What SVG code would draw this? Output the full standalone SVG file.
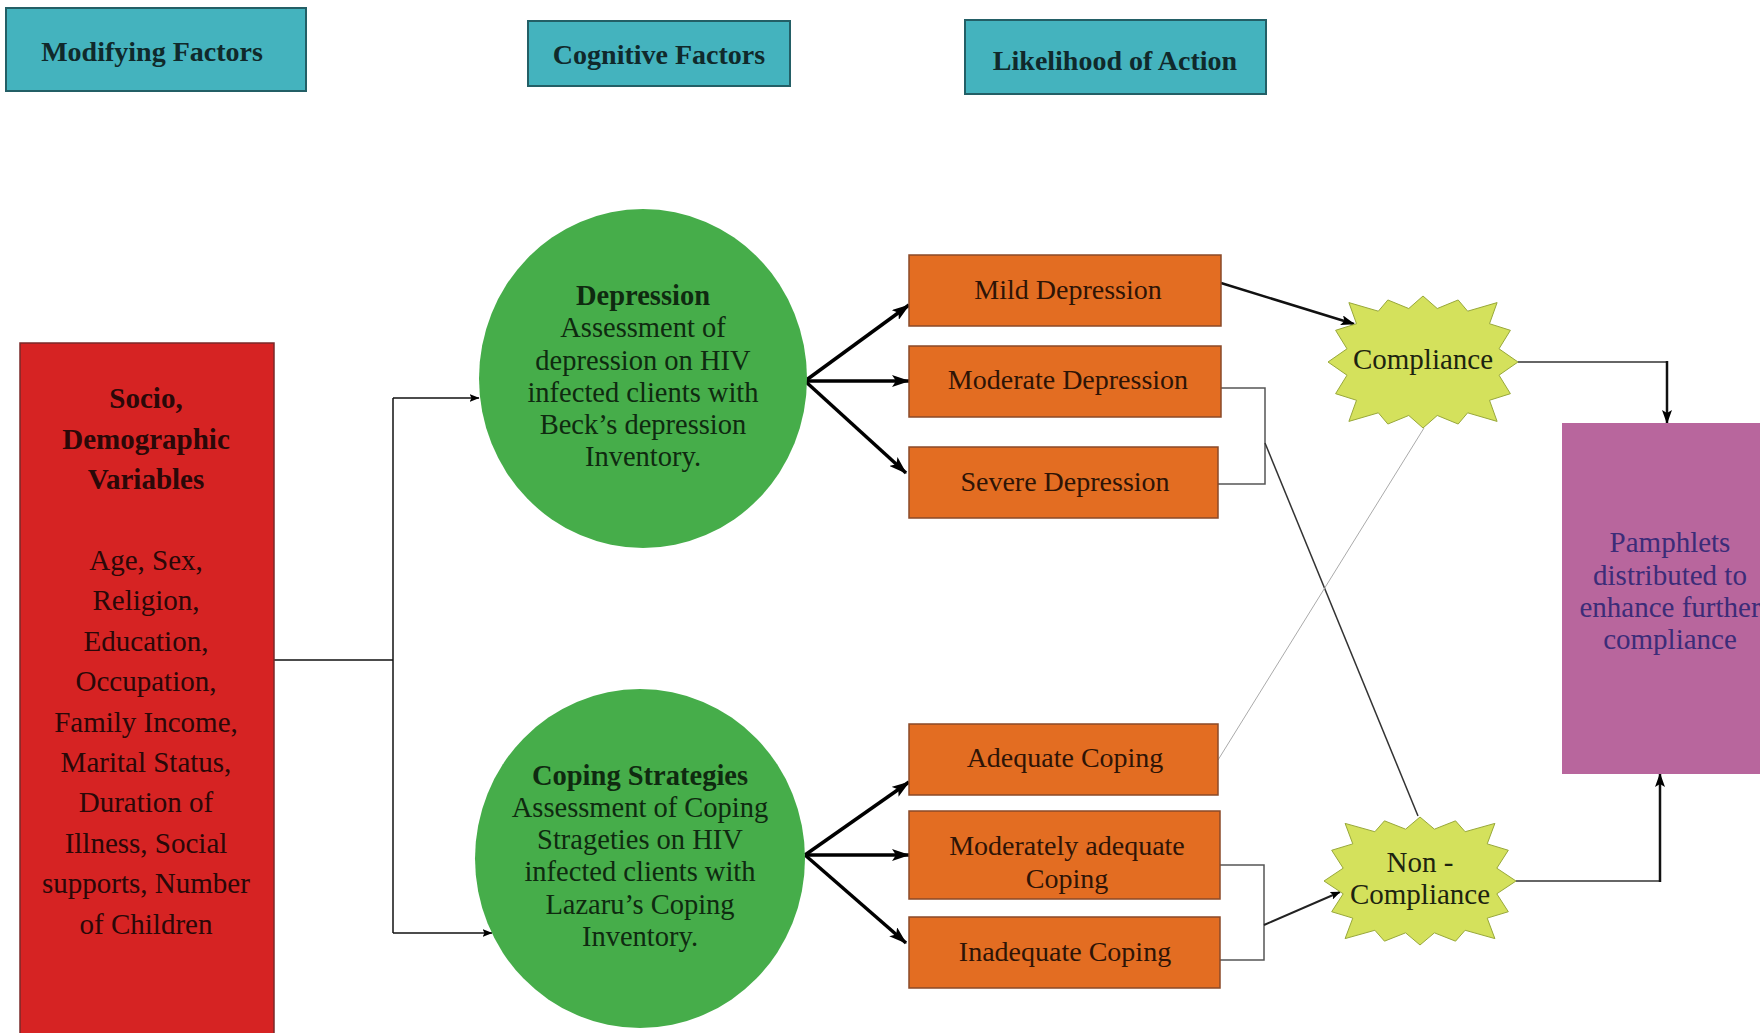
<svg xmlns="http://www.w3.org/2000/svg" width="1760" height="1033" viewBox="0 0 1760 1033">
<style>
text{font-family:"Liberation Serif","Times New Roman",serif;text-anchor:middle}
.hdr rect{fill:#44B3BE;stroke:#235f66;stroke-width:2}
.hdr text{font-size:28px;font-weight:bold;fill:#10292b}
.red{fill:#D62323;stroke:#7a2a2a;stroke-width:1.5}
.redt{font-size:29px;fill:#2a0808}
.b{font-weight:bold}
.circ{fill:#46AD4A}
.ct{font-size:28.5px;fill:#0f2a10}
.org{fill:#E36D22;stroke:#8a4a28;stroke-width:1.5}
.ot{font-size:28px;fill:#2e1406}
.star{fill:#D4E15C;stroke:#98A83A;stroke-width:1;vector-effect:non-scaling-stroke}
.st{font-size:29px;fill:#1d2410}
.pam{fill:#B8669D}
.pt{font-size:29px;fill:#3C2C78}
.c1{fill:none;stroke:#111;stroke-width:1.5}
.c3{fill:none;stroke:#000;stroke-width:3.5}
.c2{fill:none;stroke:#111;stroke-width:2.5}
.g1{fill:none;stroke:#555;stroke-width:1.5}
.g2{fill:none;stroke:#333;stroke-width:1.5}
.g3{fill:none;stroke:#aaa;stroke-width:1}
</style>
<defs>
<marker id="aL" markerUnits="userSpaceOnUse" markerWidth="18" markerHeight="12" refX="17" refY="6" orient="auto"><path d="M0,0 L18,6 L0,12 L4,6 z" fill="#000"/></marker>
<marker id="aM" markerUnits="userSpaceOnUse" markerWidth="14" markerHeight="10" refX="13" refY="5" orient="auto"><path d="M0,0 L14,5 L0,10 L3,5 z" fill="#000"/></marker>
<marker id="aS" markerUnits="userSpaceOnUse" markerWidth="10" markerHeight="8" refX="9.5" refY="4" orient="auto"><path d="M0,0 L10,4 L0,8 L2,4 z" fill="#000"/></marker>
</defs>
<rect width="1760" height="1033" fill="#fff"/>

<g id="hdr-modifying" class="hdr"><rect x="6" y="8" width="300" height="83"/><text x="152" y="61">Modifying Factors</text></g>
<g id="hdr-cognitive" class="hdr"><rect x="528" y="21" width="262" height="65"/><text x="659" y="64">Cognitive Factors</text></g>
<g id="hdr-likelihood" class="hdr"><rect x="965" y="20" width="301" height="74"/><text x="1115" y="70">Likelihood of Action</text></g>

<g id="connectors">
<path class="c1" d="M274,660 H393"/>
<path class="c1" d="M393,398 V933"/>
<path class="c1" d="M393,398 H479" marker-end="url(#aS)"/>
<path class="c1" d="M393,933 H492" marker-end="url(#aS)"/>
<path class="c3" d="M805,381 L909,305" marker-end="url(#aL)"/>
<path class="c3" d="M805,381 L909,381" marker-end="url(#aL)"/>
<path class="c3" d="M805,381 L906,473" marker-end="url(#aL)"/>
<path class="c3" d="M805,855 L909,782" marker-end="url(#aL)"/>
<path class="c3" d="M805,855 L909,855" marker-end="url(#aL)"/>
<path class="c3" d="M805,855 L906,943" marker-end="url(#aL)"/>
<path class="c2" d="M1221,283 L1354,324" marker-end="url(#aM)"/>
<path class="g1" d="M1221,388 H1265 V484 H1218"/>
<path class="g2" d="M1265,443 L1418,816"/>
<path class="g3" d="M1218,760 L1424,428"/>
<path class="g1" d="M1220,865 H1264 V960 H1220"/>
<path fill="none" stroke="#222" stroke-width="2" d="M1264,925 L1340,892" marker-end="url(#aS)"/>
<path class="g2" d="M1518,362 H1667"/>
<path class="c2" d="M1667,361 V423" marker-end="url(#aM)"/>
<path class="g2" d="M1516,881 H1660"/>
<path class="c2" d="M1660,882 V774" marker-end="url(#aM)"/>
</g>

<g id="socio">
<rect class="red" x="20" y="343" width="254" height="700"/>
<text class="redt b" font-size="28"><tspan x="146" y="408">Socio,</tspan><tspan x="146" y="449">Demographic</tspan><tspan x="146" y="489">Variables</tspan></text>
<text class="redt"><tspan x="146" y="570">Age, Sex,</tspan><tspan x="146" y="610">Religion,</tspan><tspan x="146" y="651">Education,</tspan><tspan x="146" y="691">Occupation,</tspan><tspan x="146" y="732">Family Income,</tspan><tspan x="146" y="772">Marital Status,</tspan><tspan x="146" y="812">Duration of</tspan><tspan x="146" y="853">Illness, Social</tspan><tspan x="146" y="893">supports, Number</tspan><tspan x="146" y="934">of Children</tspan></text>
</g>

<g id="depression">
<ellipse class="circ" cx="643" cy="378.5" rx="164" ry="169.5"/>
<text class="ct"><tspan x="643" y="305" font-weight="bold">Depression</tspan><tspan x="643" y="337">Assessment of</tspan><tspan x="643" y="370">depression on HIV</tspan><tspan x="643" y="402">infected clients with</tspan><tspan x="643" y="434">Beck’s depression</tspan><tspan x="643" y="466">Inventory.</tspan></text>
</g>

<g id="coping">
<ellipse class="circ" cx="640" cy="858.5" rx="165" ry="169.5"/>
<text class="ct"><tspan x="640" y="785" font-weight="bold">Coping Strategies</tspan><tspan x="640" y="817">Assessment of Coping</tspan><tspan x="640" y="849">Strageties on HIV</tspan><tspan x="640" y="881">infected clients with</tspan><tspan x="640" y="914">Lazaru’s Coping</tspan><tspan x="640" y="946">Inventory.</tspan></text>
</g>

<g id="mild"><rect class="org" x="909" y="255" width="312" height="71"/><text class="ot" x="1068" y="299">Mild Depression</text></g>
<g id="moderate"><rect class="org" x="909" y="346" width="312" height="71"/><text class="ot" x="1068" y="389">Moderate Depression</text></g>
<g id="severe"><rect class="org" x="909" y="447" width="309" height="71"/><text class="ot" x="1065" y="491">Severe Depression</text></g>
<g id="adequate"><rect class="org" x="909" y="724" width="309" height="71"/><text class="ot" x="1065" y="767">Adequate Coping</text></g>
<g id="moderately"><rect class="org" x="909" y="811" width="311" height="88"/><text class="ot"><tspan x="1067" y="855">Moderately adequate</tspan><tspan x="1067" y="888">Coping</tspan></text></g>
<g id="inadequate"><rect class="org" x="909" y="917" width="311" height="71"/><text class="ot" x="1065" y="961">Inadequate Coping</text></g>

<g id="compliance">
<g transform="translate(1423,362) scale(95,66)"><polygon class="star" points="1,0 0.8,0.2 0.92,0.48 0.7,0.58 0.78,0.9 0.47,0.77 0.37,0.94 0.15,0.81 0,1 -0.15,0.81 -0.37,0.94 -0.47,0.77 -0.78,0.9 -0.7,0.58 -0.92,0.48 -0.8,0.2 -1,0 -0.8,-0.2 -0.92,-0.48 -0.7,-0.58 -0.78,-0.9 -0.47,-0.77 -0.37,-0.94 -0.15,-0.81 0,-1 0.15,-0.81 0.37,-0.94 0.47,-0.77 0.78,-0.9 0.7,-0.58 0.92,-0.48 0.8,-0.2"/></g>
<text class="st" x="1423" y="369">Compliance</text>
</g>

<g id="noncompliance">
<g transform="translate(1420,881) scale(96,64)"><polygon class="star" points="1,0 0.8,0.2 0.92,0.48 0.7,0.58 0.78,0.9 0.47,0.77 0.37,0.94 0.15,0.81 0,1 -0.15,0.81 -0.37,0.94 -0.47,0.77 -0.78,0.9 -0.7,0.58 -0.92,0.48 -0.8,0.2 -1,0 -0.8,-0.2 -0.92,-0.48 -0.7,-0.58 -0.78,-0.9 -0.47,-0.77 -0.37,-0.94 -0.15,-0.81 0,-1 0.15,-0.81 0.37,-0.94 0.47,-0.77 0.78,-0.9 0.7,-0.58 0.92,-0.48 0.8,-0.2"/></g>
<text class="st"><tspan x="1420" y="872">Non -</tspan><tspan x="1420" y="904">Compliance</tspan></text>
</g>

<g id="pamphlets">
<rect class="pam" x="1562" y="423" width="210" height="351"/>
<text class="pt"><tspan x="1670" y="552">Pamphlets</tspan><tspan x="1670" y="585">distributed to</tspan><tspan x="1670" y="617">enhance further</tspan><tspan x="1670" y="649">compliance</tspan></text>
</g>
</svg>
